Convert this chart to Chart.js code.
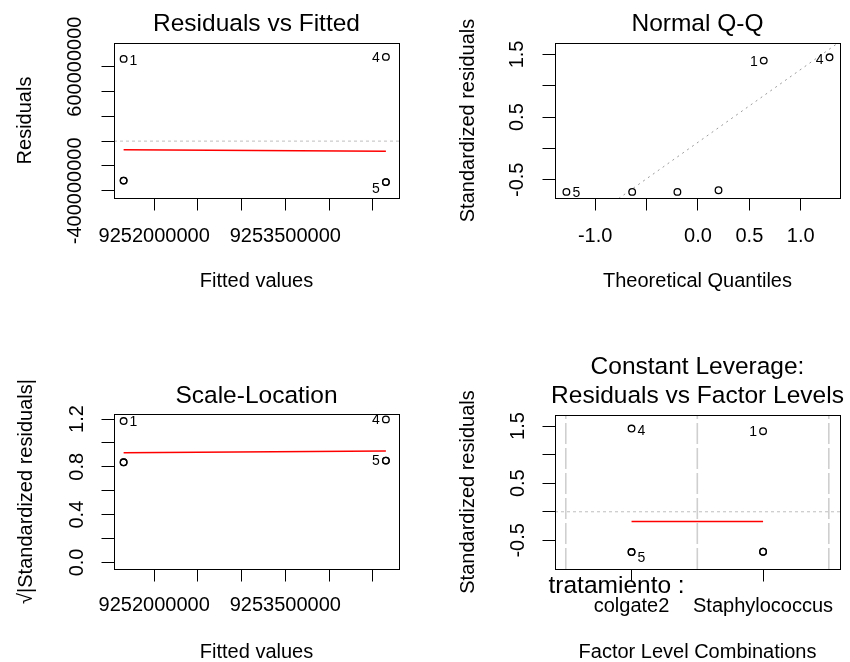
<!DOCTYPE html>
<html>
<head>
<meta charset="utf-8">
<script src="https://cdn.jsdelivr.net/npm/chart.js@4/dist/chart.umd.min.js"></script>
<style>
html, body { margin: 0; padding: 0; background: #fff; width: 850px; height: 662px; overflow: hidden; position: relative; }
canvas { position: absolute; }
</style>
</head>
<body>
<canvas id="p1"></canvas>
<canvas id="p2"></canvas>
<canvas id="p3"></canvas>
<canvas id="p4"></canvas>
<script>
// ---------------- data ----------------
const obsIds = ['1', '2', '3', '4', '5', '6'];
const factorLevels = ['colgate2', 'Staphylococcus'];
const obsLevel = [2, 2, 2, 1, 1, 1];
const fittedValues = [9251650000, 9251650000, 9251650000, 9254650000, 9254650000, 9254650000];
const residualValues = [662000000, -318000000, -318000000, 678000000, -330000000, -330000000];
const smoothX = [9251650000, 9254650000];
const residSmoothY = [-70500000, -81000000];
const theoreticalQuantiles = [-1.28, -0.64, -0.20, 0.20, 0.64, 1.28];
const sortedStdResiduals = [-0.694, -0.694, -0.694, -0.667, 1.402, 1.455];
const sortedIds = ['5', '3', '2', '6', '1', '4'];
const qqLineIntercept = 0.098;
const qqLineSlope = 1.163;
const sqrtAbsStdResiduals = [1.183, 0.838, 0.838, 1.197, 0.852, 0.852];
const scaleSmoothY = [0.918, 0.933];
const stdResiduals = [1.41, -0.70, -0.70, 1.457, -0.705, -0.705];
const levelSmoothX = [1, 2];
const levelSmoothY = [-0.172, -0.172];
const levelBoundaries = [0.5, 1.5, 2.5];

// ---------------- ticks ----------------
const fittedTicks = [9252000000, 9252500000, 9253000000, 9253500000, 9254000000, 9254500000];
const fittedTickLabels = ['9252000000', '', '', '9253500000', '', ''];
const residTicks = [-400000000, -200000000, 0, 200000000, 400000000, 600000000];
const residTickLabels = ['-400000000', '', '', '', '', '600000000'];
const qqXTicks = [-1.0, -0.5, 0, 0.5, 1.0];
const qqXTickLabels = ['-1.0', '', '0.0', '0.5', '1.0'];
const stdResTicks = [-0.5, 0, 0.5, 1.0, 1.5];
const stdResTickLabels = ['-0.5', '', '0.5', '', '1.5'];
const sqrtTicks = [0, 0.2, 0.4, 0.6, 0.8, 1.0, 1.2];
const sqrtTickLabels = ['0.0', '', '0.4', '', '0.8', '', '1.2'];
const levelTicks = [1, 2];

// ---------------- styling / layout ----------------
const FONT = '"Liberation Sans", Arial, Helvetica, sans-serif';
const M = 130;             // side margin of each canvas (symmetric around plot area)
const TITLE_SIZE = 24.5, TITLE_LH = 1.17;
const AXIS_SIZE = 20, AXIS_LH = 24;
const TICK_LEN = 12.5;
const GRAY = '#bebebe';

const mctx = document.createElement('canvas').getContext('2d');
mctx.font = AXIS_SIZE + 'px ' + FONT;
const measure = s => mctx.measureText(s).width;

const boxAndLabels = {
  id: 'boxAndLabels',
  afterDatasetsDraw(chart, args, opts) {
    const ctx = chart.ctx, a = chart.chartArea;
    ctx.save();
    ctx.strokeStyle = '#000';
    ctx.lineWidth = 1;
    ctx.strokeRect(Math.round(a.left) + 0.5, Math.round(a.top) + 0.5,
                   Math.round(a.right - a.left), Math.round(a.bottom - a.top));
    const meta = chart.getDatasetMeta(0);
    ctx.fillStyle = '#000';
    ctx.font = '14px ' + FONT;
    ctx.textBaseline = 'middle';
    (opts.labels || []).forEach(l => {
      const el = meta.data[l.i];
      ctx.textAlign = l.side > 0 ? 'left' : 'right';
      ctx.fillText(opts.ids[l.i], el.x + l.side * 6, el.y + l.dy);
    });
    (opts.extra || []).forEach(t => {
      ctx.font = t.size + 'px ' + FONT;
      ctx.textAlign = 'left';
      ctx.textBaseline = 'alphabetic';
      ctx.fillText(t.text, a.left + t.dx, a.bottom + t.dy);
    });
    ctx.restore();
  }
};

function pts(xs, ys) { return xs.map((x, i) => ({ x: x, y: ys[i] })); }
function pointSet(xs, ys) {
  return { data: pts(xs, ys), showLine: false, pointRadius: 3.3, pointBorderWidth: 1.3,
           pointBorderColor: '#000', pointBackgroundColor: 'rgba(0,0,0,0)', pointStyle: 'circle' };
}
function lineSet(data, color, width, dash) {
  return { data: data, showLine: true, borderColor: color, borderWidth: width,
           borderDash: dash || [], pointRadius: 0, fill: false };
}

function buildPanel(p) {
  const w = p.area.r - p.area.l;
  const W = w + 2 * M;
  const canvasLeft = p.area.l - M;
  const cv = document.getElementById(p.id);
  cv.width = W; cv.height = p.rowH;
  cv.style.left = canvasLeft + 'px';
  cv.style.top = p.rowTop + 'px';
  cv.style.width = W + 'px'; cv.style.height = p.rowH + 'px';

  const topRel = p.area.t - p.rowTop;
  const bottomRel = p.area.b - p.rowTop;
  const tLH = TITLE_SIZE * TITLE_LH;
  const tPadTop = (p.titleY - p.rowTop) - tLH / 2;
  const tPadBottom = topRel - tPadTop - p.title.length * tLH;
  const xH = p.rowH - bottomRel;
  const xTickPad = p.xTickY - p.area.b - TICK_LEN - AXIS_LH / 2;
  const xTitlePadBottom = p.rowTop + p.rowH - p.xTitleY - AXIS_LH / 2;
  const yTitlePadTop = p.yTitleX - canvasLeft - AXIS_LH / 2;
  const widest = Math.max.apply(null, p.yLabels.map(measure));
  const yTickPad = (p.area.l - p.yTickX) - TICK_LEN - widest / 2;

  const gridOpts = { display: true, drawOnChartArea: false, drawTicks: true,
                     tickLength: TICK_LEN, color: '#000', lineWidth: 1 };
  const tickFont = { family: FONT, size: AXIS_SIZE };

  new Chart(cv, {
    type: 'scatter',
    data: { datasets: p.datasets },
    options: {
      responsive: false, animation: false, events: [],
      layout: { padding: 0 },
      plugins: {
        legend: { display: false },
        tooltip: { enabled: false },
        title: { display: true, text: p.title, color: '#000', fullSize: true,
                 font: { family: FONT, size: TITLE_SIZE, weight: 'normal', lineHeight: TITLE_LH },
                 padding: { top: tPadTop, bottom: tPadBottom } },
        boxAndLabels: { labels: p.labels, ids: p.ids, extra: p.extra }
      },
      scales: {
        x: {
          type: 'linear', min: p.xMin, max: p.xMax,
          afterBuildTicks: s => { s.ticks = p.xTicks.map(v => ({ value: v })); },
          afterFit: s => { s.height = xH; },
          grid: gridOpts,
          border: { display: false },
          ticks: { autoSkip: false, minRotation: 0, maxRotation: 0, padding: xTickPad,
                   color: '#000', font: tickFont, callback: (v, i) => p.xLabels[i] },
          title: { display: true, text: p.xTitle, color: '#000', font: tickFont,
                   padding: { top: 0, bottom: xTitlePadBottom } }
        },
        y: {
          type: 'linear', position: 'left', min: p.yMin, max: p.yMax,
          afterBuildTicks: s => { s.ticks = p.yTicks.map(v => ({ value: v })); },
          afterFit: s => { s.width = M; },
          grid: gridOpts,
          border: { display: false },
          ticks: { autoSkip: false, minRotation: 90, maxRotation: 90, crossAlign: 'center',
                   padding: yTickPad, color: '#000', font: tickFont,
                   callback: (v, i) => p.yLabels[i] },
          title: { display: true, text: p.yTitle, color: '#000', font: tickFont,
                   padding: { top: yTitlePadTop, bottom: 0 } }
        },
        yr: {
          type: 'linear', position: 'right', display: true,
          grid: { display: false }, border: { display: false },
          ticks: { display: false }, title: { display: false },
          afterFit: s => { s.width = M; }
        }
      }
    },
    plugins: [boxAndLabels]
  });
}

// ---- Panel 1: Residuals vs Fitted ----
const p1 = { xMin: 9251540000, xMax: 9254800000, yMin: -458000000, yMax: 790000000 };
buildPanel(Object.assign(p1, {
  id: 'p1', area: { l: 114, r: 399, t: 43, b: 198 }, rowTop: 0, rowH: 331,
  title: ['Residuals vs Fitted'], titleY: 24.7,
  xTitle: 'Fitted values', xTitleY: 281.7, xTickY: 236.3,
  yTitle: 'Residuals', yTitleX: 25.8, yTickX: 75.8,
  xTicks: fittedTicks, xLabels: fittedTickLabels,
  yTicks: residTicks, yLabels: residTickLabels,
  ids: obsIds,
  labels: [{ i: 0, side: 1, dy: 2.4 }, { i: 3, side: -1, dy: 1 }, { i: 4, side: -1, dy: 6.7 }],
  datasets: [
    pointSet(fittedValues, residualValues),
    lineSet(pts(smoothX, residSmoothY), '#ff0000', 1.5),
    lineSet([{ x: p1.xMin, y: 0 }, { x: p1.xMax, y: 0 }], GRAY, 1, [3, 3])
  ]
}));

// ---- Panel 2: Normal Q-Q ----
const p2 = { xMin: -1.391, xMax: 1.382, yMin: -0.791, yMax: 1.683 };
buildPanel(Object.assign(p2, {
  id: 'p2', area: { l: 555, r: 840, t: 43, b: 198 }, rowTop: 0, rowH: 331,
  title: ['Normal Q-Q'], titleY: 24.7,
  xTitle: 'Theoretical Quantiles', xTitleY: 281.7, xTickY: 236,
  yTitle: 'Standardized residuals', yTitleX: 468.3, yTickX: 517.5,
  xTicks: qqXTicks, xLabels: qqXTickLabels,
  yTicks: stdResTicks, yLabels: stdResTickLabels,
  ids: sortedIds,
  labels: [{ i: 0, side: 1, dy: 1 }, { i: 4, side: -1, dy: 1.3 }, { i: 5, side: -1, dy: 3.3 }],
  datasets: [
    pointSet(theoreticalQuantiles, sortedStdResiduals),
    lineSet([p2.xMin, p2.xMax].map(x => ({ x: x, y: qqLineIntercept + qqLineSlope * x })), '#9a9a9a', 1, [2, 4])
  ]
}));

// ---- Panel 3: Scale-Location ----
const p3 = { xMin: 9251540000, xMax: 9254800000, yMin: -0.055, yMax: 1.242 };
buildPanel(Object.assign(p3, {
  id: 'p3', area: { l: 114, r: 399, t: 414, b: 569 }, rowTop: 331, rowH: 360,
  title: ['Scale-Location'], titleY: 396.7,
  xTitle: 'Fitted values', xTitleY: 652.3, xTickY: 605.5,
  yTitle: '\u221A|Standardized residuals|', yTitleX: 26.5, yTickX: 77.2,
  xTicks: fittedTicks, xLabels: fittedTickLabels,
  yTicks: sqrtTicks, yLabels: sqrtTickLabels,
  ids: obsIds,
  labels: [{ i: 0, side: 1, dy: 0.7 }, { i: 3, side: -1, dy: 0.7 }, { i: 4, side: -1, dy: 1 }],
  datasets: [
    pointSet(fittedValues, sqrtAbsStdResiduals),
    lineSet(pts(smoothX, scaleSmoothY), '#ff0000', 1.5)
  ]
}));

// ---- Panel 4: Constant Leverage ----
const p4 = { xMin: 0.418, xMax: 2.585, yMin: -1.002, yMax: 1.694 };
buildPanel(Object.assign(p4, {
  id: 'p4', area: { l: 555, r: 840, t: 415, b: 569 }, rowTop: 331, rowH: 360,
  title: ['Constant Leverage:', 'Residuals vs Factor Levels'], titleY: 367.2,
  xTitle: 'Factor Level Combinations', xTitleY: 652.3, xTickY: 606,
  yTitle: 'Standardized residuals', yTitleX: 468.3, yTickX: 518.3,
  xTicks: levelTicks, xLabels: factorLevels,
  yTicks: stdResTicks, yLabels: stdResTickLabels,
  ids: obsIds,
  labels: [{ i: 3, side: 1, dy: 2.4 }, { i: 4, side: 1, dy: 6 }, { i: 0, side: -1, dy: 0.7 }],
  extra: [{ text: 'tratamiento :', dx: -6.5, dy: 24, size: TITLE_SIZE }],
  datasets: [
    pointSet(obsLevel, stdResiduals),
    lineSet(pts(levelSmoothX, levelSmoothY), '#ff0000', 1.5),
    lineSet([{ x: p4.xMin, y: 0 }, { x: p4.xMax, y: 0 }], GRAY, 1, [3, 3])
  ].concat(levelBoundaries.map(v =>
    lineSet([{ x: v, y: p4.yMin }, { x: v, y: p4.yMax }], '#cfcfcf', 1.6, [21, 4])))
}));
</script>
</body>
</html>
